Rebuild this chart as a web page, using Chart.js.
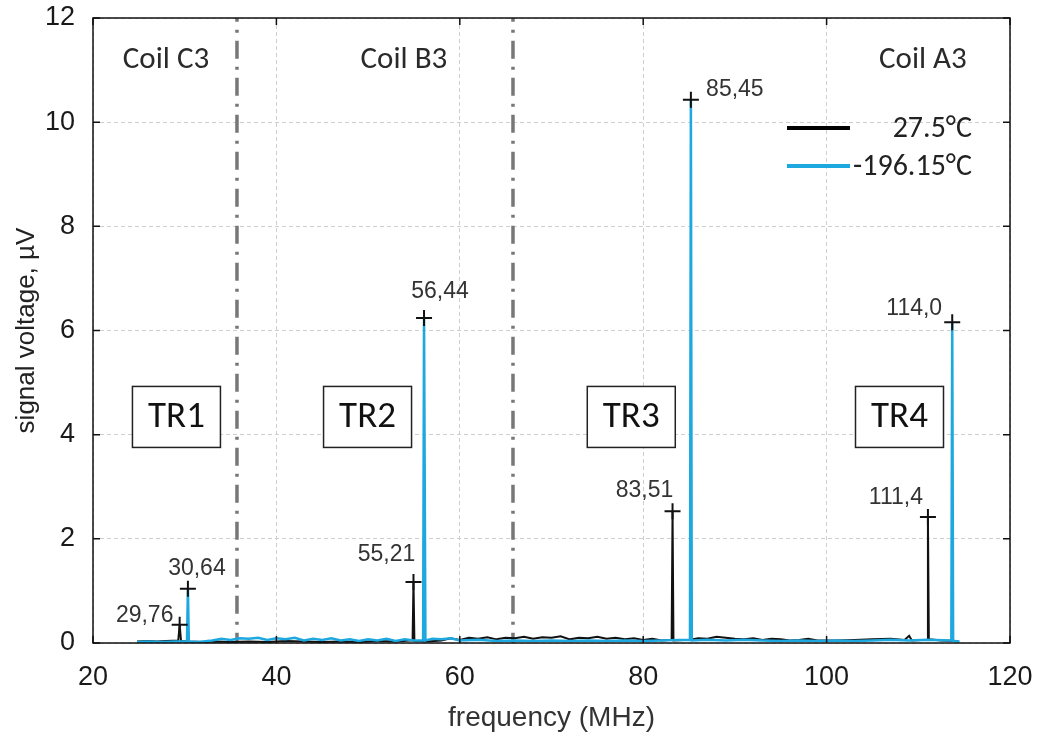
<!DOCTYPE html>
<html>
<head>
<meta charset="utf-8">
<script src="https://cdn.jsdelivr.net/npm/chart.js@4.4.1/dist/chart.umd.min.js"></script>
<style>
  html, body { margin: 0; padding: 0; background: #fff; }
  #wrap { width: 1046px; height: 737px; position: relative; }
</style>
</head>
<body>
<div id="wrap"><canvas id="chart-coils" width="1046" height="737"></canvas></div>
<script>
// spectra, [MHz, µV]
const warmSpectrum = [
  [24.8, 0.03], [26, 0.04], [27, 0.03], [28, 0.04], [29.3, 0.05], [29.45, 0.35], [29.6, 0.04],
  [30.5, 0.03], [32, 0.02], [33.5, 0.03], [35, 0.02], [37, 0.03], [39, 0.02], [41, 0.04],
  [43, 0.03], [45, 0.02], [47, 0.03], [49, 0.02], [51, 0.04], [53, 0.03], [54.85, 0.05],
  [54.95, 1.17], [55.05, 0.04], [56.5, 0.03], [58, 0.05], [59, 0.09], [60, 0.06], [61, 0.1],
  [62, 0.08], [63, 0.11], [64, 0.07], [65, 0.1], [66, 0.09], [67, 0.12], [68, 0.08], [69, 0.11],
  [70, 0.1], [71, 0.13], [72, 0.07], [73, 0.1], [74, 0.09], [75, 0.12], [76, 0.08], [77, 0.1],
  [78, 0.07], [79, 0.09], [80, 0.06], [81, 0.08], [82, 0.05], [83.1, 0.06], [83.2, 2.53],
  [83.3, 0.05], [85, 0.06], [86, 0.09], [87, 0.08], [88, 0.12], [89, 0.1], [90, 0.08], [91, 0.07],
  [92, 0.09], [93, 0.06], [94, 0.08], [95, 0.07], [96, 0.05], [97, 0.06], [98, 0.08], [99, 0.05],
  [101, 0.05], [103, 0.06], [105, 0.07], [107, 0.08], [108.5, 0.06], [109, 0.14], [109.3, 0.05],
  [110.95, 0.06], [111.05, 2.42], [111.15, 0.07], [112.5, 0.05], [114.3, 0.04]
];
const coldSpectrum = [
  [24.8, 0.02], [26, 0.03], [27.5, 0.02], [29, 0.03], [30.25, 0.03], [30.35, 1.04], [30.45, 0.03],
  [31.5, 0.02], [33, 0.05], [34, 0.08], [35, 0.06], [36, 0.09], [37, 0.08], [38, 0.1], [39, 0.06],
  [40, 0.09], [41, 0.07], [42, 0.1], [43, 0.05], [44, 0.08], [45, 0.06], [46, 0.09], [47, 0.05],
  [48, 0.07], [49, 0.04], [50, 0.07], [51, 0.05], [52, 0.08], [53, 0.04], [54, 0.07], [55, 0.05],
  [56.0, 0.05], [56.1, 6.24], [56.25, 0.05], [57, 0.08], [58, 0.07], [59, 0.09], [60, 0.05],
  [62, 0.06], [64, 0.04], [66, 0.05], [68, 0.04], [70, 0.05], [72, 0.04], [74, 0.05], [76, 0.04],
  [78, 0.05], [80, 0.04], [82, 0.05], [84, 0.06], [85.1, 0.06], [85.2, 10.43], [85.3, 0.05],
  [87, 0.06], [89, 0.05], [91, 0.06], [93, 0.05], [95, 0.04], [97, 0.05], [99, 0.04], [101, 0.05],
  [103, 0.04], [105, 0.05], [107, 0.06], [109, 0.05], [111, 0.06], [113.6, 0.05], [113.7, 6.16],
  [113.8, 0.04], [114.5, 0.03]
];

// marked resonance peaks
const peakFreqs = [29.45, 30.35, 54.95, 56.1, 83.2, 85.2, 111.05, 113.7];
const peakValues = [0.35, 1.04, 1.17, 6.24, 2.53, 10.43, 2.42, 6.16];
const peakLabels = ['29,76', '30,64', '55,21', '56,44', '83,51', '85,45', '111,4', '114,0'];
// where each label sits relative to its cross (px)
const peakLabelShift = [[-35, -9], [9, -20], [-27, -27], [16, -26], [-28, -21], [44, -10], [-32, -19], [-38, -14]];

const coilBounds = [35.7, 65.8];
const coilNames = ['Coil C3', 'Coil B3', 'Coil A3'];
const coilNameFreqs = [27.96, 53.9, 110.5];
const trNames = ['TR1', 'TR2', 'TR3', 'TR4'];
const trFreqs = [29.1, 49.94, 78.7, 107.95];
const trLevel = 4.35;

const xTicks = [20, 40, 60, 80, 100, 120];
const yTicks = [0, 2, 4, 6, 8, 10, 12];
const seriesNames = ['27.5°C', '-196.15°C'];

const BLUE = '#1ea8e0';
const sans = "'Liberation Sans', Arial, sans-serif";
const calibriLike = "Carlito, Lato, 'Noto Sans', sans-serif";

const toPts = (arr) => arr.map(([x, y]) => ({ x, y }));

const overlay = {
  id: 'overlay',
  afterDraw(chart) {
    const { ctx, chartArea: a, scales: { x, y } } = chart;
    ctx.save();
    // frame
    ctx.strokeStyle = '#111';
    ctx.lineWidth = 1.5;
    ctx.strokeRect(a.left, a.top, a.right - a.left, a.bottom - a.top);
    // inward ticks on all sides
    ctx.beginPath();
    xTicks.forEach((v) => {
      const px = x.getPixelForValue(v);
      ctx.moveTo(px, a.bottom); ctx.lineTo(px, a.bottom - 7);
      ctx.moveTo(px, a.top); ctx.lineTo(px, a.top + 7);
    });
    yTicks.forEach((v) => {
      const py = y.getPixelForValue(v);
      ctx.moveTo(a.left, py); ctx.lineTo(a.left + 7, py);
      ctx.moveTo(a.right, py); ctx.lineTo(a.right - 7, py);
    });
    ctx.stroke();

    // peak labels
    ctx.fillStyle = '#333';
    ctx.font = '23px ' + sans;
    ctx.textAlign = 'center';
    ctx.textBaseline = 'middle';
    peakLabels.forEach((t, i) => {
      const px = x.getPixelForValue(peakFreqs[i]) + peakLabelShift[i][0];
      const py = y.getPixelForValue(peakValues[i]) + peakLabelShift[i][1];
      ctx.fillText(t, px, py);
    });

    // coil names
    ctx.font = '31px ' + calibriLike;
    ctx.fillStyle = '#2a2a2a';
    coilNames.forEach((t, i) => {
      ctx.fillText(t, x.getPixelForValue(coilNameFreqs[i]), a.top + 42);
    });

    // TR boxes
    ctx.font = '37px ' + calibriLike;
    trNames.forEach((t, i) => {
      const cx = x.getPixelForValue(trFreqs[i]);
      const cy = y.getPixelForValue(trLevel);
      ctx.fillStyle = '#fff';
      ctx.fillRect(cx - 44, cy - 30, 88, 61);
      ctx.strokeStyle = '#222';
      ctx.lineWidth = 1.5;
      ctx.strokeRect(cx - 44, cy - 30, 88, 61);
      ctx.fillStyle = '#111';
      ctx.fillText(t, cx, cy + 1);
    });

    // legend
    ctx.font = '30px ' + calibriLike;
    ctx.textAlign = 'right';
    const legendColors = ['#000', BLUE];
    seriesNames.forEach((t, i) => {
      const ly = a.top + 110 + i * 38;
      ctx.strokeStyle = legendColors[i];
      ctx.lineWidth = 4;
      ctx.beginPath();
      ctx.moveTo(a.left + 694, ly);
      ctx.lineTo(a.left + 757, ly);
      ctx.stroke();
      ctx.fillStyle = '#222';
      ctx.fillText(t, a.left + 879, ly + 1);
    });
    ctx.restore();
  }
};

new Chart(document.getElementById('chart-coils'), {
  type: 'line',
  data: {
    datasets: [
      {
        label: 'peaks',
        data: peakFreqs.map((f, i) => ({ x: f, y: peakValues[i] })),
        showLine: false,
        pointStyle: 'cross',
        pointRadius: 8,
        pointBorderWidth: 2,
        pointBorderColor: '#111'
      },
      {
        label: seriesNames[1],
        data: toPts(coldSpectrum),
        borderColor: BLUE,
        borderWidth: 2.5,
        pointRadius: 0,
        tension: 0
      },
      {
        label: seriesNames[0],
        data: toPts(warmSpectrum),
        borderColor: '#111',
        borderWidth: 2,
        pointRadius: 0,
        tension: 0
      },
      ...coilBounds.map((f) => ({
        label: 'bound',
        data: [{ x: f, y: -0.15 }, { x: f, y: 12 }],
        borderColor: '#777',
        borderWidth: 3.5,
        borderDash: [18, 8, 3, 8],
        pointRadius: 0
      }))
    ]
  },
  options: {
    responsive: false,
    animation: false,
    layout: { padding: { top: 18, right: 36, left: 0, bottom: 0 } },
    plugins: { legend: { display: false }, tooltip: { enabled: false } },
    scales: {
      x: {
        type: 'linear',
        min: 20,
        max: 120,
        afterFit: (s) => { s.height = 94; s.paddingLeft = 0; s.paddingRight = 0; },
        afterBuildTicks: (s) => { s.ticks = xTicks.map((v) => ({ value: v })); },
        grid: { color: '#cfcfcf', drawTicks: false, lineWidth: 1 },
        border: { display: false, dash: [4, 3] },
        ticks: { padding: 18, color: '#1a1a1a', font: { family: sans, size: 27 } },
        title: {
          display: true,
          text: 'frequency (MHz)',
          color: '#333',
          padding: { top: 0, bottom: 2 },
          font: { family: sans, size: 28 }
        }
      },
      y: {
        type: 'linear',
        min: 0,
        max: 12,
        afterFit: (s) => { s.width = 93; s.paddingTop = 0; s.paddingBottom = 0; },
        afterBuildTicks: (s) => { s.ticks = yTicks.map((v) => ({ value: v })); },
        grid: { color: '#cfcfcf', drawTicks: false, lineWidth: 1 },
        border: { display: false, dash: [4, 3] },
        ticks: { padding: 18, color: '#1a1a1a', font: { family: sans, size: 27 } },
        title: {
          display: true,
          text: 'signal voltage, µV',
          color: '#222',
          padding: { top: 11, bottom: 0 },
          font: { family: sans, size: 26 }
        }
      }
    }
  },
  plugins: [overlay]
});
</script>
</body>
</html>
